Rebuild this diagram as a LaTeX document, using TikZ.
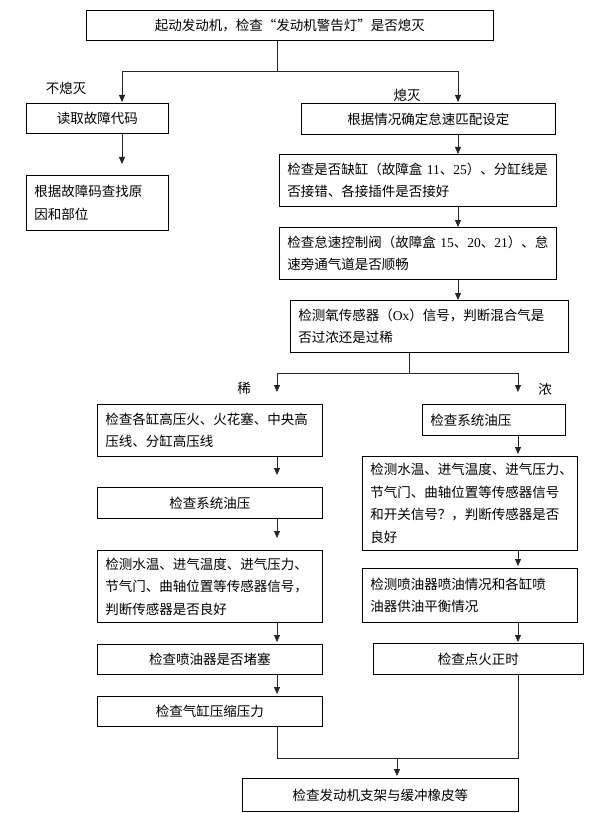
\documentclass[tikz,border=0pt]{standalone}
\usepackage{fontspec}
\setmainfont{Noto Sans CJK SC}
\newfontfamily\lat{Liberation Serif}
\usetikzlibrary{arrows.meta,calc}
\begin{document}
\begin{tikzpicture}[x=1pt,y=-1pt,
  box/.style={draw,line width=0.8pt,anchor=north west,inner xsep=8pt,inner ysep=0pt,
    font=\fontsize{13.5}{22.5}\selectfont},
  lbox/.style={box,align=left},
  cbox/.style={box,align=center},
  arr/.style={draw=black!85,line width=0.8pt,-{Triangle[length=7pt,width=6pt]}},
  ln/.style={draw=black!85,line width=0.8pt},
  lab/.style={font=\fontsize{13.5}{16}\selectfont,inner sep=0pt}]
\useasboundingbox (0,0) rectangle (610,813);

% column coordinates
\coordinate (xL) at (122,0);
\coordinate (xR) at (458,0);
\coordinate (xM) at (277,0);
\coordinate (xS) at (409,0);
\coordinate (xA) at (277,0);
\coordinate (xB) at (518,0);
\coordinate (xF) at (397,0);
\coordinate (yA) at (0,71);
\coordinate (yB) at (0,373);
\coordinate (yC) at (0,758);

% boxes
\node[cbox,minimum width=407pt,minimum height=30pt] (n0) at (86,10) {起动发动机，检查“发动机警告灯”是否熄灭};
\node[cbox,minimum width=142pt,minimum height=30pt] (read) at (26,103) {读取故障代码};
\node[lbox,minimum width=142pt,minimum height=55pt,text width=126pt] (fault) at (26,175) {根据故障码查找原\\因和部位};
\node[cbox,minimum width=254pt,minimum height=31pt] (idle) at (301,103) {根据情况确定怠速匹配设定};
\node[lbox,minimum width=277pt,minimum height=52pt,text width=261pt] (cyl) at (279,154) {检查是否缺缸（故障盒~{\lat 11}、{\lat 25}）、分缸线是\\否接错、各接插件是否接好};
\node[lbox,minimum width=277pt,minimum height=52pt,text width=261pt] (iac) at (279,227) {检查怠速控制阀（故障盒~{\lat 15}、{\lat 20}、{\lat 21}）、怠\\速旁通气道是否顺畅};
\node[lbox,minimum width=278pt,minimum height=52pt,text width=262pt] (ox) at (290,300) {检测氧传感器（{\lat Ox}）信号，判断混合气是\\否过浓还是过稀};

\node[lbox,minimum width=225pt,minimum height=52pt,text width=209pt] (lthin) at (97,404) {检查各缸高压火、火花塞、中央高\\压线、分缸高压线};
\node[cbox,minimum width=225pt,minimum height=31pt] (loil) at (97,487) {检查系统油压};
\node[lbox,minimum width=225pt,minimum height=72pt,text width=209pt] (lsens) at (97,550) {检测水温、进气温度、进气压力、\\节气门、曲轴位置等传感器信号，\\判断传感器是否良好};
\node[cbox,minimum width=225pt,minimum height=30pt] (linj) at (97,644) {检查喷油器是否堵塞};
\node[cbox,minimum width=225pt,minimum height=30pt] (lcomp) at (97,696) {检查气缸压缩压力};

\node[lbox,minimum width=143pt,minimum height=31pt,text width=127pt] (roil) at (422,404) {检查系统油压};
\node[lbox,minimum width=215pt,minimum height=94pt,text width=199pt] (rsens) at (362,456) {检测水温、进气温度、进气压力、\\节气门、曲轴位置等传感器信号\\和开关信号？，判断传感器是否\\良好};
\node[lbox,minimum width=215pt,minimum height=54pt,text width=199pt] (rinj) at (362,568) {检测喷油器喷油情况和各缸喷\\油器供油平衡情况};
\node[cbox,minimum width=210pt,minimum height=31pt] (rign) at (373,643) {检查点火正时};

\node[cbox,minimum width=276pt,minimum height=33pt] (final) at (242,778) {检查发动机支架与缓冲橡皮等};

% labels
\node[lab] (l1) at (66,88) {不熄灭};
\node[lab] (l2) at (407,95) {熄灭};
\node[lab] (l3) at (244,388) {稀};
\node[lab] (l4) at (545,389) {浓};

% connectors
\draw[ln] (n0.south -| xM) -- (xM |- yA);
\draw[arr,shorten >=1pt] (xM |- yA) -| (read.north -| xL);
\draw[arr,shorten >=1pt] (xM |- yA) -| (idle.north -| xR);
\draw[arr,shorten >=11pt] (read.south -| xL) -- (fault.north -| xL);
\draw[arr] (idle.south -| xR) -- (cyl.north -| xR);
\draw[arr] (cyl.south -| xR) -- (iac.north -| xR);
\draw[arr] (iac.south -| xR) -- (ox.north -| xR);

\draw[ln] (ox.south -| xS) -- (xS |- yB);
\draw[arr,shorten >=12pt] (xS |- yB) -| (lthin.north -| xA);
\draw[arr,shorten >=12pt] (xS |- yB) -| (roil.north -| xB);

\draw[arr,shorten >=12pt] (lthin.south -| xA) -- (loil.north -| xA);
\draw[arr,shorten >=12pt] (loil.south -| xA) -- (lsens.north -| xA);
\draw[arr,shorten >=2pt] (lsens.south -| xA) -- (linj.north -| xA);
\draw[arr,shorten >=2pt] (linj.south -| xA) -- (lcomp.north -| xA);

\draw[arr,shorten >=2pt] (roil.south -| xB) -- (rsens.north -| xB);
\draw[arr,shorten >=2pt] (rsens.south -| xB) -- (rinj.north -| xB);
\draw[arr,shorten >=1pt] (rinj.south -| xB) -- (rign.north -| xB);

\draw[ln] (lcomp.south -| xA) -- (xA |- yC) -- (xB |- yC) -- (rign.south -| xB);
\draw[arr,shorten >=2pt] (xF |- yC) -- (final.north -| xF);
\end{tikzpicture}
\end{document}
